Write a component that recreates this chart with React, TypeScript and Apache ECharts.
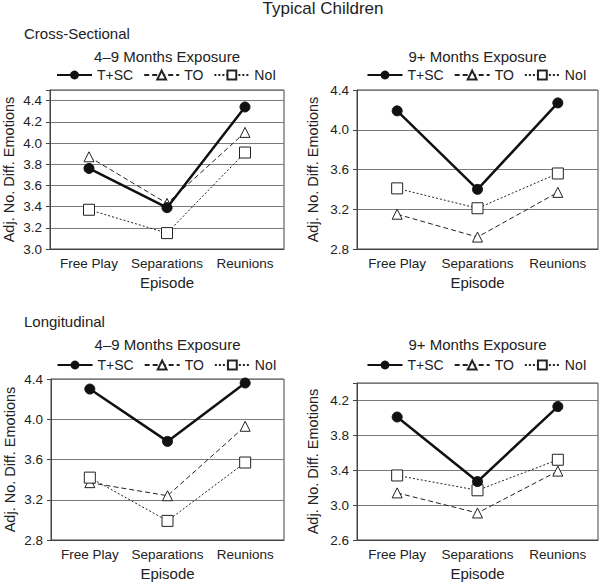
import React, { useEffect, useRef } from "react";
import * as echarts from "echarts";

const episodes = ["Free Play", "Separations", "Reunions"];
const seriesNames = ["T+SC", "TO", "NoI"];

// Cross-sectional, 4–9 months
const cs49_TSC = [3.76, 3.39, 4.34];
const cs49_TO = [3.87, 3.43, 4.1];
const cs49_NoI = [3.37, 3.15, 3.91];
// Cross-sectional, 9+ months
const cs9_TSC = [4.19, 3.4, 4.27];
const cs9_TO = [3.15, 2.92, 3.37];
const cs9_NoI = [3.41, 3.21, 3.56];
// Longitudinal, 4–9 months
const lo49_TSC = [4.3, 3.78, 4.36];
const lo49_TO = [3.37, 3.24, 3.93];
const lo49_NoI = [3.42, 2.99, 3.57];
// Longitudinal, 9+ months
const lo9_TSC = [4.01, 3.27, 4.13];
const lo9_TO = [3.14, 2.91, 3.39];
const lo9_NoI = [3.34, 3.17, 3.52];

// y-axis ranges [min, max, interval, lastLabel]
const yAxesSpec = [
  [3.0, 4.5, 0.2, 4.4],
  [2.8, 4.4, 0.4, 4.4],
  [2.8, 4.4, 0.4, 4.4],
  [2.6, 4.4, 0.4, 4.2],
];

const panelTitles = [
  "4\u20139 Months Exposure",
  "9+ Months Exposure",
  "4\u20139 Months Exposure",
  "9+ Months Exposure",
];

const FONT = "'Liberation Sans', Arial, Helvetica, sans-serif";
const TXT = "#222";

export default function App() {
  const ref = useRef<HTMLDivElement>(null);
  useEffect(() => {
    if (!ref.current) return;
    const chart = echarts.init(ref.current, null, { renderer: "svg" });

    const grids = [
      { left: 50, top: 90, width: 234, height: 159 },
      { left: 357, top: 90, width: 241, height: 159 },
      { left: 51, top: 379, width: 233, height: 161 },
      { left: 357, top: 383, width: 241, height: 157 },
    ];
    const data = [
      [cs49_TSC, cs49_TO, cs49_NoI],
      [cs9_TSC, cs9_TO, cs9_NoI],
      [lo49_TSC, lo49_TO, lo49_NoI],
      [lo9_TSC, lo9_TO, lo9_NoI],
    ];
    const titleY = [56, 56, 344, 344];
    const legendTop = [68, 68, 358, 358];

    const series: any[] = [];
    data.forEach((panel, i) => {
      panel.forEach((vals, k) => {
        const base: any = {
          type: "line",
          name: seriesNames[k],
          xAxisIndex: i,
          yAxisIndex: i,
          data: vals,
          color: "#111",
        };
        if (k === 0) {
          Object.assign(base, {
            symbol: "circle",
            symbolSize: 10,
            lineStyle: { color: "#111", width: 2.5, type: "solid" },
            itemStyle: { color: "#111", borderColor: "#111" },
            z: 4,
          });
        } else if (k === 1) {
          Object.assign(base, {
            symbol: "triangle",
            symbolSize: 10,
            lineStyle: { color: "#222", width: 1, type: [5, 3] },
            itemStyle: { color: "#fff", borderColor: "#222", borderWidth: 1 },
            z: 3,
          });
        } else {
          Object.assign(base, {
            symbol: "rect",
            symbolSize: 11,
            lineStyle: { color: "#222", width: 1, type: [2, 2] },
            itemStyle: { color: "#fff", borderColor: "#222", borderWidth: 1 },
            z: 3,
          });
        }
        series.push(base);
      });
    });

    const option: any = {
      animation: false,
      backgroundColor: "#fff",
      textStyle: { fontFamily: FONT, color: TXT },
      grid: grids.map((g) => ({
        ...g,
        show: true,
        borderColor: "#444",
        borderWidth: 1,
        backgroundColor: "transparent",
      })),
      xAxis: grids.map((_, i) => ({
        type: "category",
        gridIndex: i,
        data: episodes,
        boundaryGap: true,
        axisLine: { lineStyle: { color: "#444" } },
        axisTick: { show: false },
        axisLabel: {
          color: TXT,
          fontSize: 13.5,
          margin: 7,
          interval: 0,
          fontFamily: FONT,
        },
        name: "Episode",
        nameLocation: "middle",
        nameGap: 26,
        nameTextStyle: { color: TXT, fontSize: 15, fontFamily: FONT },
      })),
      yAxis: yAxesSpec.map(([mn, mx, iv, last], i) => ({
        type: "value",
        gridIndex: i,
        min: mn,
        max: mx,
        interval: iv,
        axisLine: { show: true, lineStyle: { color: "#444" } },
        axisTick: { show: true, length: 4, lineStyle: { color: "#444" } },
        splitLine: { show: true, lineStyle: { color: "#7a7a7a", width: 1 } },
        axisLabel: {
          color: TXT,
          fontSize: 13.5,
          margin: 8,
          fontFamily: FONT,
          formatter: (v: number) => (v > last + 1e-6 ? "" : v.toFixed(1)),
        },
        name: "Adj. No. Diff. Emotions",
        nameLocation: "middle",
        nameGap: i % 2 === 0 ? 34 : 37,
        nameTextStyle: { color: TXT, fontSize: 14.5, fontFamily: FONT },
      })),
      legend: grids.map((g, i) => ({
        data: seriesNames,
        left: g.left + g.width / 2 - 111,
        top: legendTop[i],
        textStyle: { color: TXT, fontSize: 14, fontFamily: FONT },
        itemWidth: 35,
        itemHeight: 11,
        itemGap: 10,
        selectedMode: false,
        padding: 0,
      })),
      graphic: [
        {
          type: "text",
          x: 323,
          y: 8,
          style: {
            text: "Typical Children",
            fontSize: 17,
            fill: TXT,
            fontFamily: FONT,
            align: "center",
            verticalAlign: "middle",
          },
        },
        {
          type: "text",
          x: 24,
          y: 33,
          style: {
            text: "Cross-Sectional",
            fontSize: 15,
            fill: TXT,
            fontFamily: FONT,
            verticalAlign: "middle",
          },
        },
        {
          type: "text",
          x: 24,
          y: 321,
          style: {
            text: "Longitudinal",
            fontSize: 15,
            fill: TXT,
            fontFamily: FONT,
            verticalAlign: "middle",
          },
        },
        ...grids.map((g, i) => ({
          type: "text",
          x: g.left + g.width / 2,
          y: titleY[i],
          style: {
            text: panelTitles[i],
            fontSize: 15,
            fill: TXT,
            fontFamily: FONT,
            align: "center",
            verticalAlign: "middle",
          },
        })),
      ],
      series,
    };
    chart.setOption(option);
    return () => chart.dispose();
  }, []);
  return (
    <div
      ref={ref}
      style={{ position: "fixed", left: 0, top: 0, width: 600, height: 583 }}
    />
  );
}
